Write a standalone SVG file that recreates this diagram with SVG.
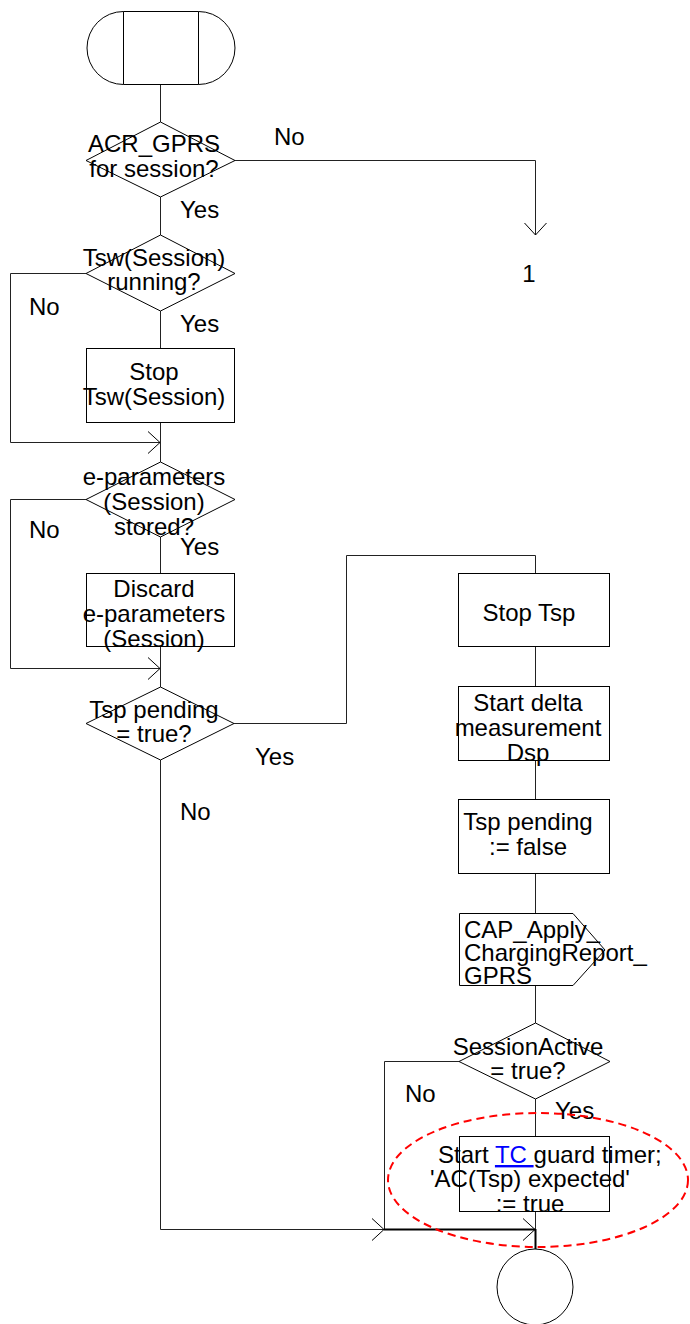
<svg xmlns="http://www.w3.org/2000/svg" width="690" height="1324" viewBox="0 0 690 1324">
  <style>
    .shape { fill: none; stroke: #000; stroke-width: 1; }
    .wire { fill: none; stroke: #222; stroke-width: 1; }
    .bold { fill: none; stroke: #000; stroke-width: 2; }
    text { font-family: "Liberation Sans", Arial, sans-serif; font-size: 24px; fill: #000; }
    .c { text-anchor: middle; }
    .link { fill: #0000ff; text-decoration: underline; }
  </style>
  <defs>
    <marker id="open" markerUnits="userSpaceOnUse" viewBox="-14 -13 16 26" markerWidth="16" markerHeight="26" refX="0" refY="0" orient="auto" overflow="visible">
      <path d="M-12,-11 L0,0 L-12,11" fill="none" stroke="#000" stroke-width="1"/>
    </marker>
  </defs>

  <rect width="690" height="1324" fill="#fff"/>

  <!-- connectors -->
  <g id="connectors">
    <path class="wire" d="M160.5,84 V122"/>
    <path class="wire" d="M235,160.5 H535.5 V235" marker-end="url(#open)"/>
    <path class="wire" d="M160.5,197 V235"/>
    <path class="wire" d="M86,273.5 H10.5 V442.5 H160" marker-end="url(#open)"/>
    <path class="wire" d="M160.5,311 V348"/>
    <path class="wire" d="M160.5,423 V462"/>
    <path class="wire" d="M86,499.5 H10.5 V668.5 H160" marker-end="url(#open)"/>
    <path class="wire" d="M160.5,537 V573"/>
    <path class="wire" d="M160.5,647 V687"/>
    <path class="wire" d="M234,723.5 H346.5 V555.5 H535.5 V573"/>
    <path class="wire" d="M160.5,760 V1229.5 H384" marker-end="url(#open)"/>
    <path class="wire" d="M535.5,647 V686"/>
    <path class="wire" d="M535.5,761 V799"/>
    <path class="wire" d="M535.5,874 V913"/>
    <path class="wire" d="M535.5,985 V1023"/>
    <path class="wire" d="M459,1061.5 H384.5 V1229"/>
    <path class="bold" d="M384,1229.5 H535" marker-end="url(#open)"/>
    <path class="wire" d="M535.5,1099 V1136"/>
    <path class="wire" d="M535.5,1212 V1229"/>
    <path class="bold" d="M535.5,1229 V1249"/>
  </g>

  <!-- start -->
  <g id="start">
    <path class="shape" d="M123.5,11.5 H198.5 A36.5,36.5 0 0 1 198.5,84.5 H123.5 A36.5,36.5 0 0 1 123.5,11.5 Z"/>
    <path class="shape" d="M123.5,11.5 V84.5 M198.5,11.5 V84.5"/>
  </g>

  <g id="acr-decision">
    <polygon class="shape" points="160.5,122 235,160.5 160.5,197 86,160.5"/>
    <text class="c" x="154" y="152">ACR_GPRS</text>
    <text class="c" x="154" y="177">for session?</text>
  </g>
  <text x="274" y="145">No</text>
  <text x="180" y="218">Yes</text>

  <g id="connector-1">
    <text class="c" x="529" y="282">1</text>
  </g>

  <g id="tsw-decision">
    <polygon class="shape" points="160.5,235 235,273.5 160.5,311 86,273.5"/>
    <text class="c" x="154" y="266">Tsw(Session)</text>
    <text class="c" x="154" y="290">running?</text>
  </g>
  <text x="29" y="315">No</text>
  <text x="180" y="332">Yes</text>

  <g id="stop-tsw">
    <rect class="shape" x="86.5" y="348.5" width="148" height="74"/>
    <text class="c" x="154" y="380">Stop</text>
    <text class="c" x="154" y="405">Tsw(Session)</text>
  </g>

  <g id="eparam-decision">
    <polygon class="shape" points="160.5,462 235,499.5 160.5,537 86,499.5"/>
    <text class="c" x="154" y="485">e-parameters</text>
    <text class="c" x="154" y="510">(Session)</text>
    <text class="c" x="154" y="535">stored?</text>
  </g>
  <text x="29" y="538">No</text>
  <text x="180" y="555">Yes</text>

  <g id="discard">
    <rect class="shape" x="86.5" y="573.5" width="148" height="73"/>
    <text class="c" x="154" y="597">Discard</text>
    <text class="c" x="154" y="622">e-parameters</text>
    <text class="c" x="154" y="647">(Session)</text>
  </g>

  <g id="tsp-decision">
    <polygon class="shape" points="160.5,687 234,723.5 160.5,760 86,723.5"/>
    <text class="c" x="154" y="718">Tsp pending</text>
    <text class="c" x="154" y="742">= true?</text>
  </g>
  <text x="255" y="765">Yes</text>
  <text x="180" y="820">No</text>

  <g id="stop-tsp">
    <rect class="shape" x="458.5" y="573.5" width="151" height="73"/>
    <text class="c" x="529" y="621">Stop Tsp</text>
  </g>

  <g id="start-delta">
    <rect class="shape" x="458.5" y="686.5" width="151" height="74"/>
    <text class="c" x="528" y="711">Start delta</text>
    <text class="c" x="528" y="736">measurement</text>
    <text class="c" x="528" y="761">Dsp</text>
  </g>

  <g id="tsp-false">
    <rect class="shape" x="458.5" y="799.5" width="151" height="74"/>
    <text class="c" x="528" y="830">Tsp pending</text>
    <text class="c" x="528" y="855">:= false</text>
  </g>

  <g id="acr-signal">
    <polygon class="shape" points="459.5,913.5 573,913.5 605,950 573,985.5 459.5,985.5"/>
    <text x="464" y="938">CAP_Apply_</text>
    <text x="464" y="961">ChargingReport_</text>
    <text x="464" y="984">GPRS</text>
  </g>

  <g id="session-decision">
    <polygon class="shape" points="535.5,1023 610,1061.5 535.5,1099 459,1061.5"/>
    <text class="c" x="528" y="1055">SessionActive</text>
    <text class="c" x="528" y="1079">= true?</text>
  </g>
  <text x="405" y="1102">No</text>
  <text x="555" y="1119">Yes</text>

  <g id="start-tc">
    <rect class="shape" x="459.5" y="1136.5" width="150" height="75"/>
    <text x="438" y="1163">Start <tspan class="link">TC </tspan>guard timer;</text>
    <text class="c" x="530" y="1187">'AC(Tsp) expected'</text>
    <text class="c" x="530" y="1212">:= true</text>
  </g>

  <g id="end">
    <circle class="shape" cx="535" cy="1287" r="38"/>
  </g>

  <!-- highlight -->
  <ellipse cx="538" cy="1180" rx="150" ry="67" fill="none" stroke="#ff0000" stroke-width="2" stroke-dasharray="8,5"/>
</svg>
